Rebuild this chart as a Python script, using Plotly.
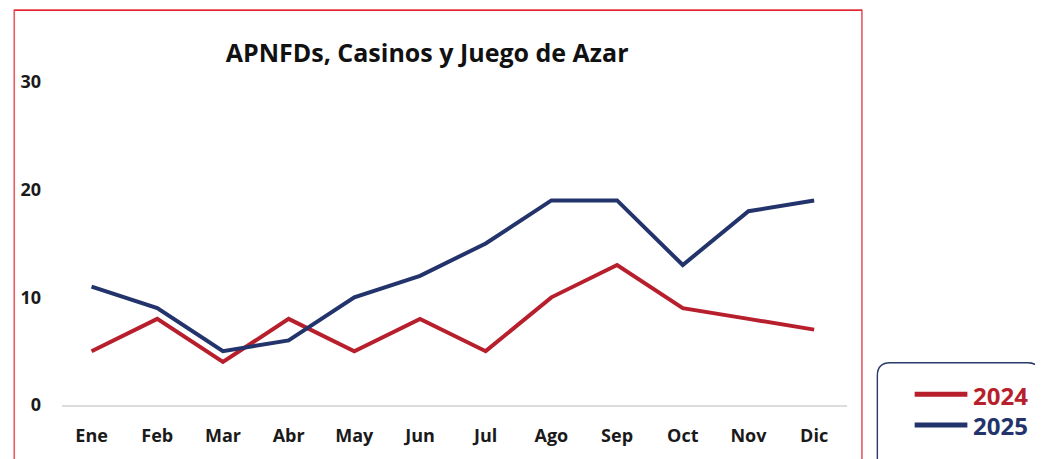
import plotly.graph_objects as go

months = ["Ene", "Feb", "Mar", "Abr", "May", "Jun", "Jul", "Ago", "Sep", "Oct", "Nov", "Dic"]
series_names = ["2024", "2025"]
values_2024 = [5, 8, 4, 8, 5, 8, 5, 10, 13, 9, 8, 7]
values_2025 = [11, 9, 5, 6, 10, 12, 15, 19, 19, 13, 18, 19]
y_ticks = [0, 10, 20, 30]
title_text = "APNFDs, Casinos y Juego de Azar"

RED = "#b71f2c"
NAVY = "#22346b"
OFF = 8  # page body margin
W, H = 1043 - OFF, 459 - OFF
L, R, T, B = 58 - OFF, 847 - OFF, 81.7 - OFF, 409.3 - OFF


def px(x):
    # x given in screenshot pixels
    return (x - OFF - L) / (R - L)


def py(y):
    return (B - (y - OFF)) / (B - T)


fig = go.Figure()
for name, vals, col in [(series_names[0], values_2024, RED), (series_names[1], values_2025, NAVY)]:
    fig.add_trace(go.Scatter(x=months, y=vals, mode="lines", name=name,
                             line=dict(color=col, width=4), showlegend=False))

shapes = []
# outer red frame
shapes.append(dict(type="rect", xref="paper", yref="paper",
                   x0=px(10), x1=px(862), y0=py(480), y1=py(9),
                   line=dict(color="#ea5a62", width=1.6), layer="below"))
shapes.append(dict(type="line", xref="paper", yref="paper",
                   x0=px(10), x1=px(862), y0=py(9), y1=py(9),
                   line=dict(color="#e3242f", width=1.6)))

# rounded legend box
lx0, lx1, ly0, ly1, rr = 877.5, 1041.5, 366.5, 485, 13


def P(x, y):
    return f"{px(x):.5f},{py(y):.5f}"


path = (f"M {P(lx0 + rr, ly0)} L {P(lx1 - rr, ly0)} Q {P(lx1, ly0)} {P(lx1, ly0 + rr)} "
        f"L {P(lx1, ly1 - rr)} Q {P(lx1, ly1)} {P(lx1 - rr, ly1)} "
        f"L {P(lx0 + rr, ly1)} Q {P(lx0, ly1)} {P(lx0, ly1 - rr)} "
        f"L {P(lx0, ly0 + rr)} Q {P(lx0, ly0)} {P(lx0 + rr, ly0)} Z")
shapes.append(dict(type="path", xref="paper", yref="paper", path=path,
                   line=dict(color="#2a3a6b", width=1.4)))

annotations = []
for i, (name, col) in enumerate([(series_names[0], RED), (series_names[1], NAVY)]):
    yy = 398.5 + i * 31
    shapes.append(dict(type="line", xref="paper", yref="paper",
                       x0=px(915), x1=px(968), y0=py(yy), y1=py(yy),
                       line=dict(color=col, width=5)))
    annotations.append(dict(xref="paper", yref="paper", x=px(972), y=py(yy + 1),
                            xanchor="left", yanchor="middle", showarrow=False,
                            text=name, font=dict(family="Open Sans", size=24, color=col, weight="bold")))

fig.update_layout(
    width=W, height=H,
    margin=dict(l=L, r=W - R, t=T, b=H - B),
    paper_bgcolor="white", plot_bgcolor="white",
    title=dict(text=title_text, x=px(425), xref="paper", xanchor="center",
               y=1 - (53 - OFF) / H, yref="container", yanchor="middle",
               font=dict(family="Open Sans", size=25, color="#111111", weight="bold")),
    xaxis=dict(type="category", range=[-0.45, 11.5], showgrid=False, zeroline=False,
               showline=True, linecolor="#dcdcdc", linewidth=1.5, ticks="",
               ticklabelstandoff=14,
               tickfont=dict(family="Open Sans", size=18, color="#1a1a1a", weight="bold")),
    yaxis=dict(range=[0, 30], tickvals=y_ticks, showgrid=False, zeroline=False,
               showline=False, ticks="", ticklabelstandoff=20,
               tickfont=dict(family="Open Sans", size=18, color="#1a1a1a", weight="bold")),
    shapes=shapes, annotations=annotations, showlegend=False,
)

fig.write_html("out.html")
